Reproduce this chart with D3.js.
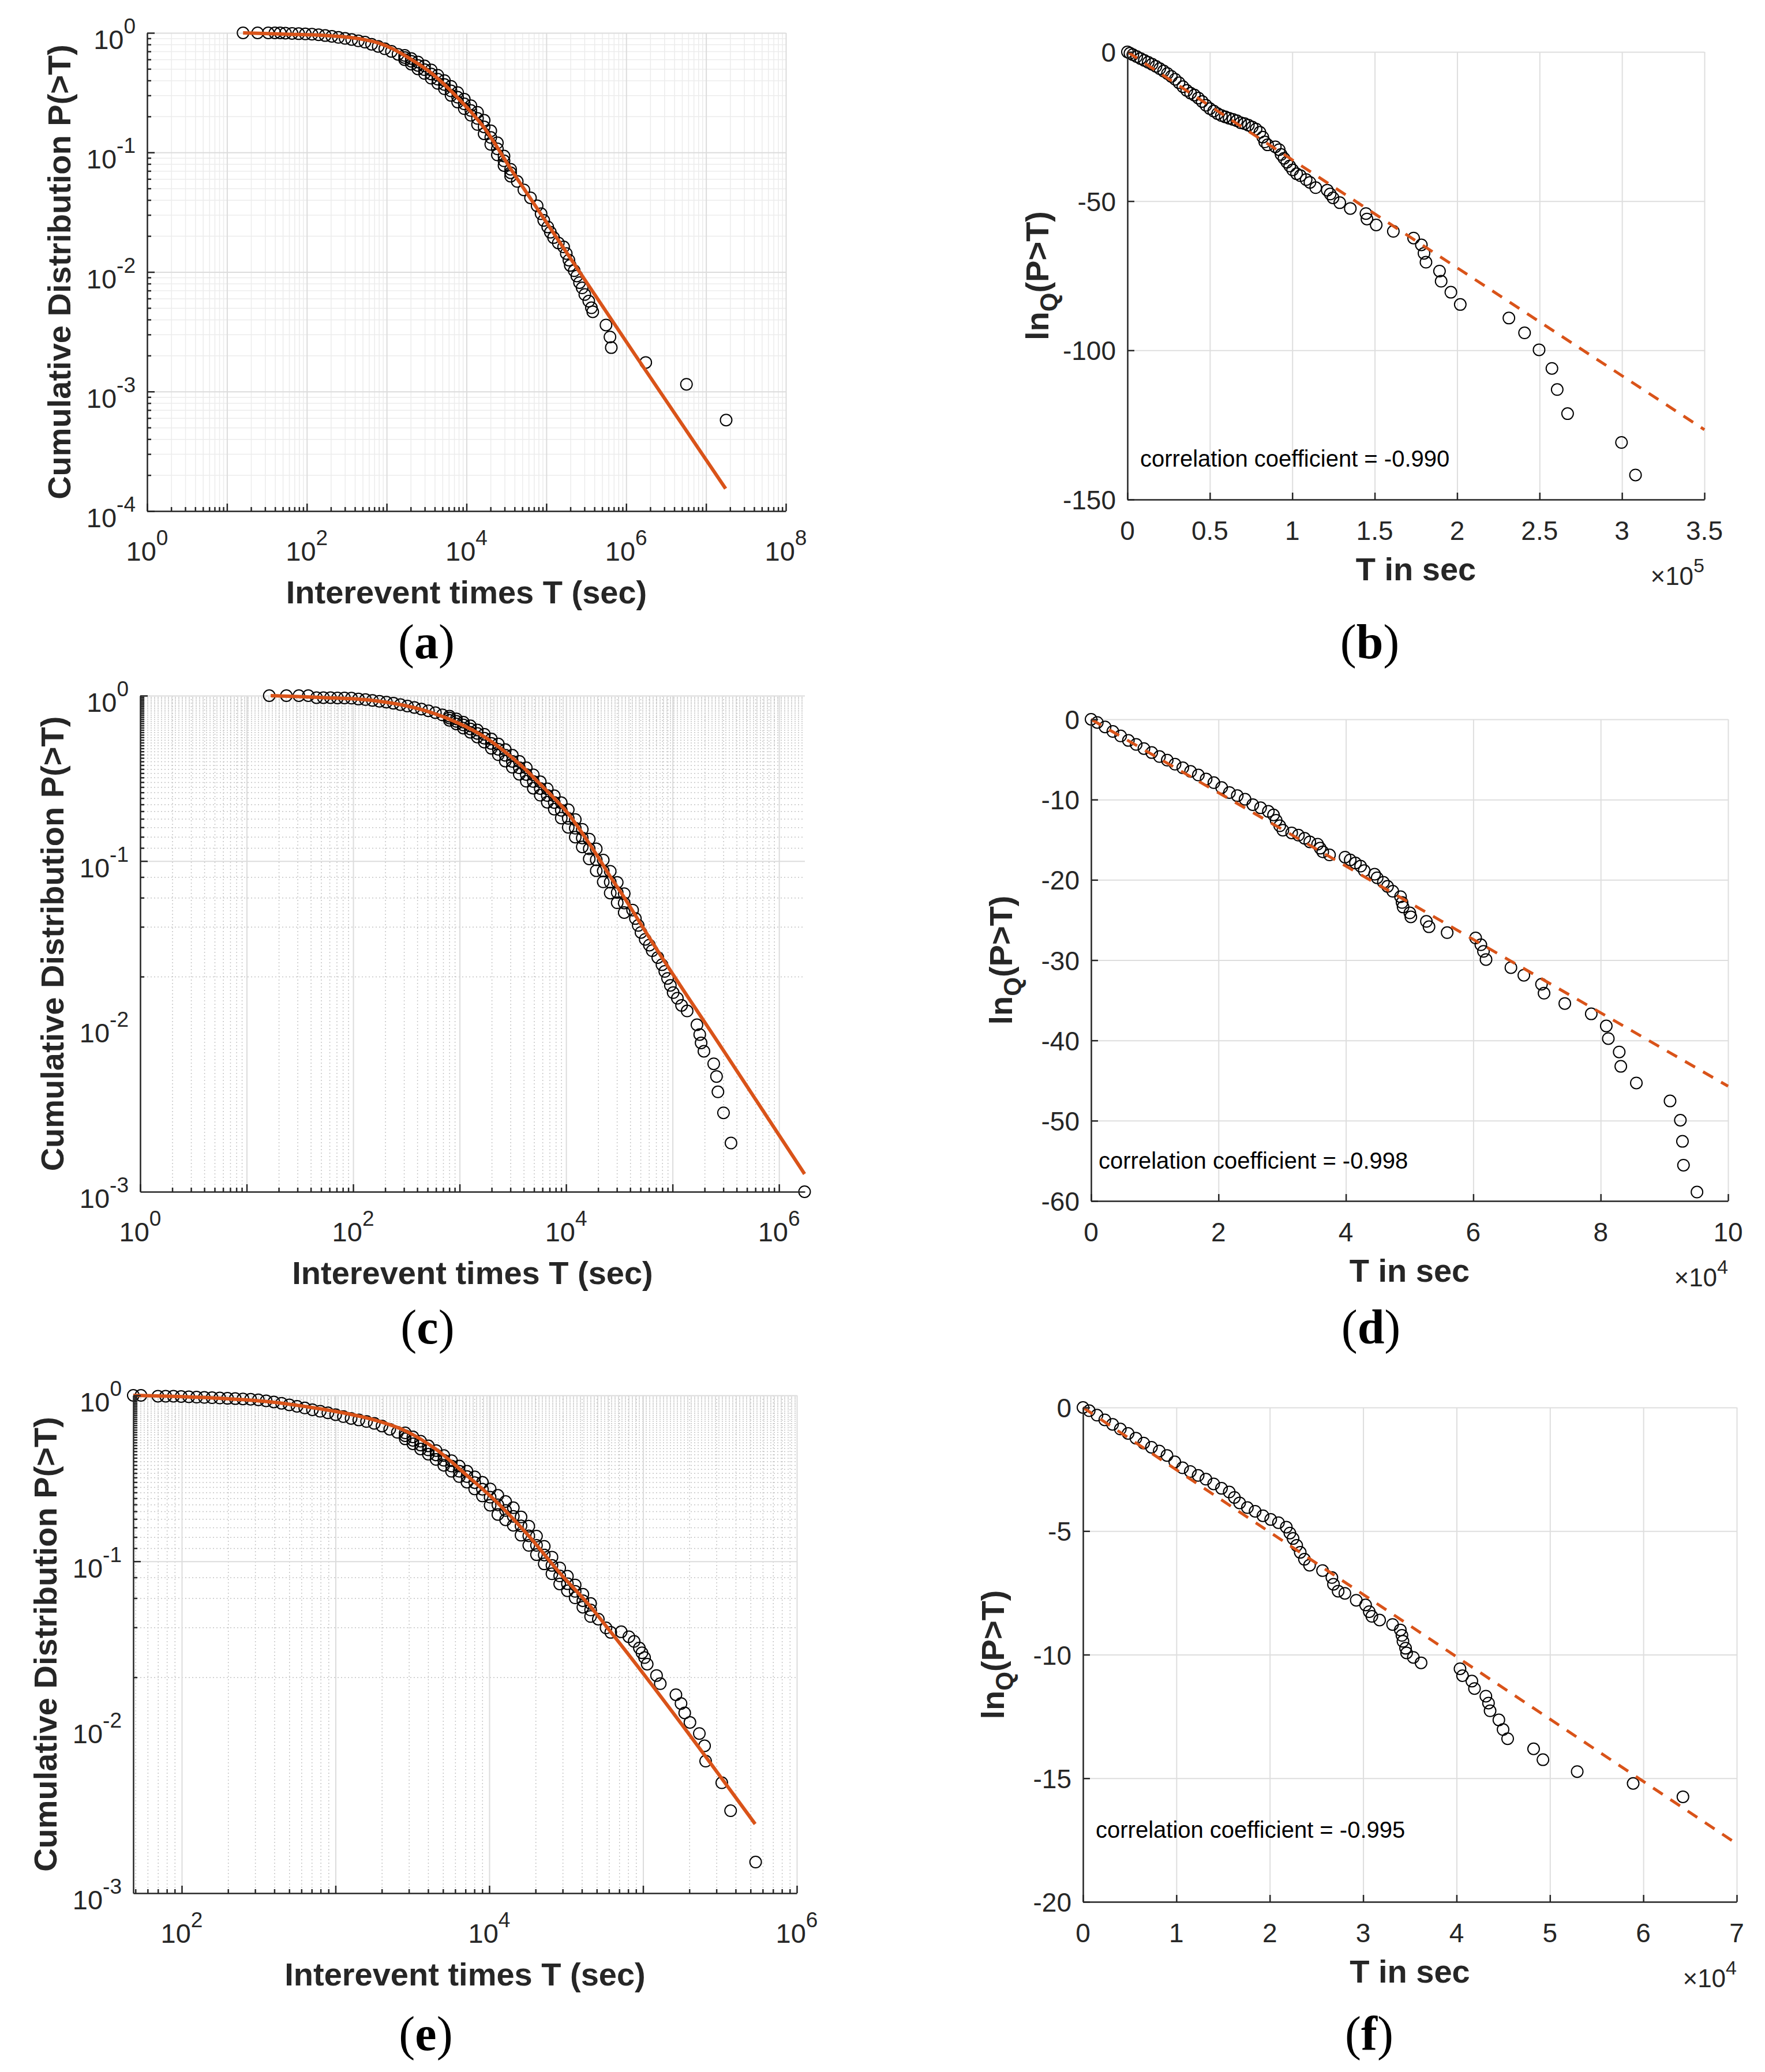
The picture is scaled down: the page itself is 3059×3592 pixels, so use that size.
<!DOCTYPE html>
<html lang="en">
<head>
<meta charset="utf-8">
<title>Interevent times and ln_q plots</title>
<script src="https://d3js.org/d3.v7.min.js"></script>
<style>
  body { margin: 0; background: #fff; }
  svg text { font-family: "Liberation Sans", Arial, Helvetica, sans-serif; fill: #262626; }
  .tl { font-size: 46px; }
  .lbl { font-size: 56px; font-weight: bold; }
  .cap { font-family: "Liberation Serif", "Times New Roman", serif; font-size: 84px; fill: #000; }
  .corr { font-size: 40px; fill: #000; }
</style>
</head>
<body>
<script>
// ---------- (a) cumulative distribution, log-log ----------
var aT = [15.9, 24.2, 32.9, 39.8, 46.4, 54.0, 65.4, 79.1, 95.8, 116, 140.4, 169.9, 205.8, 249.0, 301.5, 364.9, 441.8,
  534.6, 647.1, 783.3, 948.0, 1148, 1389, 1682, 2035, 2464, 2982, 3610, 4369, 5288, 6402, 7749, 9380, 11350, 13740,
  16630, 20140, 24370, 29510, 35710, 43220, 52330, 63330, 76660, 86000, 92800, 104100, 112300, 123100, 141300, 164600,
  177700, 191700, 199200, 223400, 241100, 260300, 280900, 303300, 340100, 367100, 381400, 558700, 626600, 651000,
  1758000, 5690000, 17860000];
var aP = [1, 1, 1, 1, 1.0, 0.995, 0.99, 0.985, 0.980, 0.975, 0.965, 0.950, 0.936, 0.917, 0.899, 0.880, 0.858, 0.837,
  0.803, 0.771, 0.736, 0.700, 0.662, 0.622, 0.579, 0.534, 0.492, 0.4535, 0.4096, 0.3698, 0.3272, 0.2895, 0.2549, 0.2243,
  0.1925, 0.1635, 0.1334, 0.1071, 0.0851, 0.0676, 0.0572, 0.0486, 0.0417, 0.0358, 0.0307, 0.0270, 0.0238, 0.0215,
  0.0194, 0.0175, 0.0162, 0.01428, 0.01257, 0.01135, 0.01025, 0.00926, 0.00815, 0.00736, 0.00648, 0.00570, 0.00502,
  0.00465, 0.00360, 0.00286, 0.00233, 0.00175, 0.00115, 0.000577];
// upper and lower edges of the dense band
var aColT = [1682, 2035, 2464, 2982, 3610, 4369, 5288, 6402, 7749, 9380, 11350, 13740, 16630, 20140, 24370, 29510, 35710];
var aUpP = [0.648, 0.610, 0.571, 0.529, 0.490, 0.442, 0.399, 0.357, 0.317, 0.279, 0.246, 0.2165, 0.1858, 0.1515, 0.1204, 0.0933, 0.0723];
var aLowP = [0.597, 0.548, 0.500, 0.458, 0.418, 0.378, 0.341, 0.300, 0.264, 0.2325, 0.2047, 0.1713, 0.1432, 0.1168, 0.0953, 0.0777, 0.0633];
var aFitT = [15.9, 54.0, 169.9, 364.9, 534.6, 783.3, 1148, 1682, 2464, 3610, 5288, 7749, 11350, 16630, 24370, 35710,
  52330, 76660, 1275000, 17600000];
var aFitP = [1.0, 0.975, 0.950, 0.912, 0.876, 0.824, 0.744, 0.648, 0.553, 0.463, 0.3698, 0.2866, 0.2187, 0.1611, 0.1099,
  0.0730, 0.0498, 0.0340, 0.002055, 0.000154];

// ---------- (b) ln_q vs T ----------
var bT = [0, 1518, 3270, 5606, 7942, 10280, 12610, 14950, 17290, 19620, 21960, 24290, 26630, 28970, 31300, 33640, 35970,
  38310, 40650, 42980, 45320, 47650, 49990, 52330, 54660, 57000, 59330, 61670, 64010, 66340, 68680, 71010, 73350, 75690,
  78020, 80360, 82110, 83280, 85030, 89700, 92040, 93210, 94960, 96710, 98460, 100200, 102600, 104900, 108400, 110700,
  114200, 121200, 123000, 124700, 128800, 135200, 144700, 145300, 150900, 161300, 173600, 178300, 179900, 181100,
  189300, 190300, 196200, 201900, 231400, 240900, 249700, 257500, 260700, 267000, 299700, 308200];
var bQ = [0, -0.45, -0.90, -1.55, -2.20, -2.84, -3.49, -4.13, -4.85, -5.62, -6.40, -7.24, -8.20, -9.17, -10.34, -11.63,
  -12.92, -13.82, -14.47, -15.44, -16.60, -17.89, -18.99, -19.83, -20.67, -21.32, -21.77, -22.22, -22.61, -23.06, -23.71,
  -24.03, -24.55, -25.19, -25.84, -26.94, -28.55, -30.17, -31.14, -31.78, -32.75, -34.37, -35.66, -36.95, -38.24,
  -39.54, -40.83, -41.47, -42.77, -43.73, -45.48, -46.32, -47.61, -48.90, -50.52, -52.46, -54.16, -56.00, -57.99,
  -60.12, -62.38, -64.65, -67.49, -70.47, -73.44, -76.85, -80.53, -84.64, -89.18, -94.14, -99.82, -106.06, -113.14,
  -121.22, -130.87, -141.78];
var bFitT = [0, 350000];
var bFitQ = [0, -126.6];

// ---------- (c) cumulative distribution, log-log ----------
var cT = [16.3, 23.6, 30.9, 37.9, 45.3, 52.6, 61.3, 71.3, 82.9, 96.4, 112.2, 130.5, 151.8, 176.6, 205.4, 238.9, 278.0,
  323.4, 376.1, 437.5, 508.9, 592.0, 688.8, 802, 932, 1084, 1261, 1467, 1707, 1986, 2310, 2687, 3126, 3636, 4229, 4920,
  5724, 6659, 7746, 9012, 10480, 12200, 14190, 16500, 19200, 22330, 25980, 30220, 35150, 42140, 44770, 47570, 50530,
  55340, 60600, 64380, 72640, 79560, 84540, 89790, 95370, 101300, 111000, 121500, 137100, 169500, 180000, 185500,
  197100, 243600, 258800, 266800, 301000, 354000, 1738000];
var cP = [1, 1, 1, 1, 0.973, 0.973, 0.973, 0.969, 0.969, 0.966, 0.954, 0.947, 0.936, 0.925, 0.914, 0.900, 0.883, 0.866,
  0.849, 0.830, 0.810, 0.789, 0.765, 0.733, 0.699, 0.665, 0.629, 0.591, 0.553, 0.514, 0.474, 0.436, 0.4006, 0.3663,
  0.3336, 0.3027, 0.2746, 0.2491, 0.2260, 0.2027, 0.1811, 0.1579, 0.1379, 0.1185, 0.1018, 0.0871, 0.0745, 0.0645,
  0.0557, 0.0505, 0.0449, 0.0408, 0.0370, 0.0336, 0.0310, 0.0287, 0.0261, 0.0236, 0.0215, 0.0195, 0.0177, 0.0160,
  0.0148, 0.0134, 0.0124, 0.01023, 0.00893, 0.00795, 0.00707, 0.00594, 0.00498, 0.00402, 0.00300, 0.00197, 0.001];
var cColT = [802, 932, 1084, 1261, 1467, 1707, 1986, 2310, 2687, 3126, 3636, 4229, 4920, 5724, 6659, 7746, 9012, 10480,
  12200, 14190, 16500, 19200, 22330, 25980, 30220, 35150];
var cUpP = [0.7525, 0.7240, 0.6910, 0.6567, 0.6195, 0.5844, 0.5470, 0.5100, 0.4717, 0.4363, 0.4006, 0.3663, 0.3323,
  0.3015, 0.2735, 0.2482, 0.2252, 0.2043, 0.1783, 0.1555, 0.1357, 0.1185, 0.1014, 0.0867, 0.0742, 0.0635];
var cLowP = [0.7099, 0.6750, 0.6365, 0.6006, 0.5621, 0.5241, 0.4810, 0.4397, 0.4022, 0.3691, 0.3348, 0.3039, 0.2757,
  0.2501, 0.2269, 0.2059, 0.1818, 0.1599, 0.1395, 0.1217, 0.1030, 0.0874, 0.0748, 0.0640, 0.0559, 0.0488];
var cFitT = [16.8, 51, 152, 509, 932, 1706, 2310, 3126, 4229, 5727, 7745, 10480, 14190, 19200, 25980, 35150, 47570,
  64380, 292100, 1738000];
var cFitP = [1.0, 0.975, 0.936, 0.801, 0.691, 0.564, 0.492, 0.421, 0.354, 0.291, 0.2395, 0.1934, 0.1473, 0.1100, 0.0806,
  0.0602, 0.0441, 0.0323, 0.00735, 0.00128];

// ---------- (d) ln_q vs T ----------
var dT = [0, 976, 2197, 3417, 4638, 5858, 7079, 8299, 9520, 10740, 11960, 13180, 14400, 15620, 16840, 18060, 19280,
  20500, 21720, 22950, 24170, 25390, 26610, 27830, 28640, 29050, 29620, 30110, 31490, 32550, 33520, 34340, 35560, 35960,
  36370, 37430, 39870, 40680, 41500, 42310, 42880, 44510, 44910, 45890, 46540, 47360, 48580, 48820, 48980, 50040, 50200,
  52640, 53050, 55900, 60370, 61190, 61600, 62000, 65910, 67940, 70710, 71110, 74370, 78520, 80880, 81200, 82910, 83160,
  85600, 90890, 92510, 92840, 93000, 95120];
var dQ = [0, -0.39, -0.95, -1.51, -2.07, -2.63, -3.13, -3.64, -4.14, -4.64, -5.09, -5.59, -6.04, -6.49, -6.94, -7.44,
  -7.89, -8.50, -9.12, -9.51, -9.96, -10.63, -11.02, -11.47, -11.91, -12.58, -13.26, -13.81, -14.15, -14.43, -14.82,
  -15.27, -15.55, -16.05, -16.50, -16.89, -17.17, -17.51, -17.90, -18.29, -18.85, -19.30, -19.74, -20.30, -20.81, -21.42,
  -22.09, -22.82, -23.38, -24.11, -24.61, -25.17, -25.84, -26.57, -27.24, -28.08, -28.91, -29.92, -30.93, -31.88, -33.00,
  -34.12, -35.40, -36.69, -38.20, -39.77, -41.44, -43.23, -45.30, -47.54, -49.94, -52.57, -55.54, -58.89];
var dFitT = [0, 100000];
var dFitQ = [0, -45.7];

// ---------- (e) cumulative distribution, log-log ----------
var eT = [48.4, 54.3, 70.0, 78.6, 88.3, 99.1, 111.2, 124.9, 140.2, 157.4, 176.7, 198.4, 222.7, 250.0, 280.6, 315.0,
  353.8, 397.2, 445.8, 500.6, 561.8, 630.8, 708.0, 795.0, 892.5, 1002, 1125, 1263, 1418, 1591, 1787, 2006, 2252, 2528,
  2838, 3186, 3577, 4015, 4508, 5061, 5682, 6378, 7161, 8039, 9024, 10130, 11370, 12770, 14330, 16090, 18070, 20280,
  22770, 25560, 28710, 32220, 36170, 40610, 45590, 51190, 57450, 61660, 72110, 80910, 87500, 94640, 98400, 102300,
  106400, 122400, 129400, 163600, 176600, 186600, 201800, 232300, 251200, 255300, 325100, 371000, 539700];
var eP = [1, 1, 0.989, 0.989, 0.989, 0.985, 0.981, 0.976, 0.972, 0.968, 0.964, 0.960, 0.956, 0.952, 0.948, 0.940, 0.927,
  0.912, 0.896, 0.877, 0.859, 0.840, 0.819, 0.802, 0.785, 0.765, 0.745, 0.726, 0.711, 0.696, 0.678, 0.653, 0.625, 0.599,
  0.571, 0.536, 0.502, 0.469, 0.438, 0.406, 0.375, 0.349, 0.324, 0.298, 0.272, 0.2434, 0.2188, 0.2025, 0.1866, 0.1634,
  0.1425, 0.1247, 0.1092, 0.0944, 0.0816, 0.0733, 0.0659, 0.0579, 0.0509, 0.0448, 0.0397, 0.0373, 0.0376, 0.0351,
  0.0329, 0.0300, 0.0281, 0.0263, 0.0240, 0.0205, 0.0183, 0.0157, 0.0139, 0.0122, 0.0107, 0.00917, 0.00773, 0.00625,
  0.00463, 0.00314, 0.00154];
var eColT = [2838, 3186, 3577, 4015, 4508, 5061, 5682, 6378, 7161, 8039, 9024, 10130, 11370, 12770, 14330, 16090, 18070,
  20280, 22770, 25560, 28710, 32220, 36170, 40610, 45590];
var eUpP = [0.594, 0.562, 0.529, 0.496, 0.465, 0.434, 0.404, 0.375, 0.349, 0.323, 0.299, 0.273, 0.2498, 0.2293, 0.2103,
  0.1850, 0.1627, 0.1418, 0.1231, 0.1060, 0.0912, 0.0813, 0.0720, 0.0633, 0.0557];
var eLowP = [0.547, 0.511, 0.475, 0.442, 0.411, 0.379, 0.349, 0.324, 0.300, 0.273, 0.2477, 0.2178, 0.1915, 0.1780, 0.1648,
  0.1437, 0.1247, 0.1097, 0.0965, 0.0841, 0.0730, 0.0665, 0.0602, 0.0529, 0.0465];
var eFitT = [48.4, 177, 354, 708, 1124, 1786, 2838, 4508, 7161, 11380, 18070, 28710, 45600, 60200, 536000];
var eFitP = [1.0, 0.960, 0.919, 0.844, 0.785, 0.711, 0.612, 0.473, 0.329, 0.224, 0.142, 0.0852, 0.0532, 0.0386, 0.00261];

// ---------- (f) ln_q vs T ----------
var fT = [0, 666, 1499, 2332, 3165, 3998, 4831, 5663, 6496, 7329, 8162, 8995, 9828, 10660, 11490, 12330, 13160, 13990,
  14830, 15660, 16210, 16770, 17600, 18430, 19270, 20100, 20930, 21770, 22150, 22490, 22880, 23260, 23710, 24260, 25650,
  26650, 26820, 27320, 28040, 29260, 30260, 30650, 30930, 31760, 33150, 33980, 34150, 34260, 34540, 34650, 35370, 36200,
  40370, 40640, 41640, 41920, 43140, 43420, 43590, 44530, 44980, 45470, 48250, 49250, 52920, 58910, 64240];
var fQ = [0, -0.13, -0.31, -0.50, -0.68, -0.87, -1.05, -1.24, -1.44, -1.61, -1.76, -1.94, -2.20, -2.44, -2.59, -2.75,
  -2.90, -3.09, -3.27, -3.42, -3.64, -3.86, -4.05, -4.20, -4.38, -4.53, -4.66, -4.84, -5.08, -5.30, -5.58, -5.86, -6.14,
  -6.38, -6.60, -6.88, -7.15, -7.43, -7.52, -7.80, -7.99, -8.26, -8.45, -8.60, -8.78, -9.00, -9.22, -9.46, -9.74, -9.93,
  -10.11, -10.33, -10.57, -10.85, -11.07, -11.37, -11.68, -11.96, -12.27, -12.64, -13.03, -13.40, -13.81, -14.25, -14.73,
  -15.21, -15.75];
var fFitT = [0, 70000];
var fFitQ = [0, -17.65];

// tick labels
var aXExp = [0, 2, 4, 6, 8], aYExp = [0, -1, -2, -3, -4];
var cXExp = [0, 2, 4, 6], cYExp = [0, -1, -2, -3];
var eXExp = [2, 4, 6], eYExp = [0, -1, -2, -3];
var bXTicks = [0, 50000, 100000, 150000, 200000, 250000, 300000, 350000], bYTicks = [0, -50, -100, -150];
var dXTicks = [0, 20000, 40000, 60000, 80000, 100000], dYTicks = [0, -10, -20, -30, -40, -50, -60];
var fXTicks = [0, 10000, 20000, 30000, 40000, 50000, 60000, 70000], fYTicks = [0, -5, -10, -15, -20];

var ORANGE = "#D95319", AXIS = "#262626";

var svg = d3.select("body").append("svg")
  .attr("width", 3059).attr("height", 3592)
  .style("background", "#fff");

function styleAxis(sel, keepDomain) {
  if (!keepDomain) sel.select(".domain").remove();
  else sel.select(".domain").attr("stroke", AXIS).attr("stroke-width", 2.5);
  sel.selectAll(".tick line").attr("stroke", AXIS).attr("stroke-width", 2.5);
}
function gridLines(g, x, y, w, h, xv, yv, color, dash, width) {
  var gx = g.append("g").call(d3.axisBottom(x).tickValues(xv).tickSize(h).tickFormat(""));
  var gy = g.append("g").call(d3.axisLeft(y).tickValues(yv).tickSize(-w).tickFormat(""));
  [gx, gy].forEach(function (s) {
    s.select(".domain").remove();
    s.selectAll("line").attr("stroke", color).attr("stroke-width", width).attr("stroke-dasharray", dash);
  });
}
// series: list of [Tarray, Varray]
function drawMarks(g, x, y, series, fitT, fitV, dashed, curved) {
  var pts = [];
  series.forEach(function (s) { pts = pts.concat(d3.zip(s[0], s[1])); });
  g.append("g").selectAll("circle").data(pts).join("circle")
    .attr("cx", function (d) { return x(d[0]); })
    .attr("cy", function (d) { return y(d[1]); })
    .attr("r", 10).attr("fill", "none").attr("stroke", "#000").attr("stroke-width", 2);
  var line = d3.line().x(function (d) { return x(d[0]); }).y(function (d) { return y(d[1]); });
  if (curved) line.curve(d3.curveMonotoneX);
  g.append("path").datum(d3.zip(fitT, fitV)).attr("d", line)
    .attr("fill", "none").attr("stroke", ORANGE)
    .attr("stroke-width", dashed ? 5 : 6)
    .attr("stroke-dasharray", dashed ? "20,16" : null);
}
function caption(cx, cy, letter) {
  var t = svg.append("text").attr("class", "cap").attr("x", cx).attr("y", cy).attr("text-anchor", "middle");
  t.append("tspan").text("(");
  t.append("tspan").attr("font-weight", "bold").text(letter);
  t.append("tspan").text(")");
}
function pow10Label(parent, px, py, anchor, e) {
  var t = parent.append("text").attr("class", "tl").attr("x", px).attr("y", py).attr("text-anchor", anchor)
    .style("font-size", "47px");
  t.append("tspan").text("10");
  t.append("tspan").attr("dy", -27).style("font-size", "37px").text(e);
}

function logPanel(p) {
  var w = p.box[2] - p.box[0], h = p.box[3] - p.box[1];
  var g = svg.append("g").attr("transform", "translate(" + p.box[0] + "," + p.box[1] + ")");
  var x = d3.scaleLog().domain(p.xDom).range([0, w]);
  var y = d3.scaleLog().domain(p.yDom).range([h, 0]);
  var isMaj = function (v) { var l = Math.log10(v); return Math.abs(l - Math.round(l)) < 1e-9; };
  var xAll = x.ticks(60), yAll = y.ticks(60);
  var xMin = xAll.filter(function (v) { return !isMaj(v); }), yMin = yAll.filter(function (v) { return !isMaj(v); });
  var xMaj = xAll.filter(isMaj), yMaj = yAll.filter(isMaj);

  gridLines(g, x, y, w, h, xMin, yMin, p.minorColor, p.minorDash, 1.5);
  gridLines(g, x, y, w, h, xMaj, yMaj, "#dcdcdc", null, 2);

  drawMarks(g, x, y, p.series, p.fitT, p.fitV, false, true);

  g.append("g").attr("transform", "translate(0," + h + ")")
    .call(d3.axisBottom(x).tickValues(xMin).tickSize(-7).tickFormat(""))
    .call(function (s) { styleAxis(s, false); });
  g.append("g").attr("transform", "translate(0," + h + ")")
    .call(d3.axisBottom(x).tickValues(xMaj).tickSize(-13).tickSizeOuter(0).tickFormat(""))
    .call(function (s) { styleAxis(s, true); });
  g.append("g").call(d3.axisLeft(y).tickValues(yMin).tickSize(-7).tickFormat(""))
    .call(function (s) { styleAxis(s, false); });
  g.append("g").call(d3.axisLeft(y).tickValues(yMaj).tickSize(-13).tickSizeOuter(0).tickFormat(""))
    .call(function (s) { styleAxis(s, true); });

  p.xExp.forEach(function (e) { pow10Label(g, x(Math.pow(10, e)), h + 86, "middle", e); });
  p.yExp.forEach(function (e) { pow10Label(g, -20, y(Math.pow(10, e)) + 28, "end", e); });

  g.append("text").attr("class", "lbl").attr("x", w / 2).attr("y", h + 160).attr("text-anchor", "middle")
    .text("Interevent times T (sec)");
  g.append("text").attr("class", "lbl").attr("text-anchor", "middle")
    .attr("transform", "translate(-133," + (h / 2) + ") rotate(-90)")
    .text("Cumulative Distribution P(>T)");
  caption(p.cap[0], p.cap[1], p.cap[2]);
}

function linPanel(p) {
  var w = p.box[2] - p.box[0], h = p.box[3] - p.box[1];
  var g = svg.append("g").attr("transform", "translate(" + p.box[0] + "," + p.box[1] + ")");
  var x = d3.scaleLinear().domain(p.xDom).range([0, w]);
  var y = d3.scaleLinear().domain(p.yDom).range([h, 0]);

  gridLines(g, x, y, w, h, p.xTicks, p.yTicks, "#dedede", null, 2);
  drawMarks(g, x, y, [[p.T, p.V]], p.fitT, p.fitV, true, false);

  g.append("g").attr("transform", "translate(0," + h + ")")
    .call(d3.axisBottom(x).tickValues(p.xTicks).tickSize(-12).tickSizeOuter(0).tickFormat(""))
    .call(function (s) { styleAxis(s, true); });
  g.append("g").call(d3.axisLeft(y).tickValues(p.yTicks).tickSize(-12).tickSizeOuter(0).tickFormat(""))
    .call(function (s) { styleAxis(s, true); });

  g.selectAll(".xl").data(p.xTicks).join("text").attr("class", "tl")
    .attr("x", function (d) { return x(d); }).attr("y", h + 70).attr("text-anchor", "middle")
    .text(function (d) { return String(d / p.xMult); });
  g.selectAll(".yl").data(p.yTicks).join("text").attr("class", "tl")
    .attr("x", -20).attr("y", function (d) { return y(d) + 17; }).attr("text-anchor", "end")
    .text(function (d) { return String(d); });

  var m = g.append("text").attr("class", "tl").attr("x", w).attr("y", h + 148).attr("text-anchor", "end")
    .style("font-size", "44px");
  m.append("tspan").text("\u00D710");
  m.append("tspan").attr("dy", -22).style("font-size", "34px").text(p.mulExp);

  g.append("text").attr("class", "lbl").attr("x", w / 2).attr("y", h + 140).attr("text-anchor", "middle")
    .text("T in sec");
  var yl = g.append("text").attr("class", "lbl").attr("text-anchor", "middle")
    .attr("transform", "translate(-137," + (h / 2) + ") rotate(-90)");
  yl.append("tspan").text("ln");
  yl.append("tspan").attr("dy", 15).style("font-size", "42px").text("Q");
  yl.append("tspan").attr("dy", -15).text("(P>T)");

  g.append("text").attr("class", "corr").attr("x", x(p.corr[0])).attr("y", y(p.corr[1]))
    .text("correlation coefficient = " + p.corr[2]);
  caption(p.cap[0], p.cap[1], p.cap[2]);
}

logPanel({ box: [255, 57, 1362, 886], xDom: [1, 1e8], yDom: [1e-4, 1], xExp: aXExp, yExp: aYExp,
  series: [[aT, aP], [aColT, aUpP], [aColT, aLowP]], fitT: aFitT, fitV: aFitP,
  minorColor: "#ececec", minorDash: null, cap: [739, 1141, "a"] });
linPanel({ box: [1954, 90, 2954, 866], xDom: [0, 350000], yDom: [-150, 0], xTicks: bXTicks, yTicks: bYTicks,
  xMult: 1e5, mulExp: "5", T: bT, V: bQ, fitT: bFitT, fitV: bFitQ, corr: [7700, -139, "-0.990"], cap: [2374, 1141, "b"] });
logPanel({ box: [243, 1206, 1395, 2066], xDom: [1, 1.75e6], yDom: [1e-3, 1], xExp: cXExp, yExp: cYExp,
  series: [[cT, cP], [cColT, cUpP], [cColT, cLowP]], fitT: cFitT, fitV: cFitP,
  minorColor: "#c4c4c4", minorDash: "2,4", cap: [741, 2329, "c"] });
linPanel({ box: [1891, 1247, 2995, 2082], xDom: [0, 100000], yDom: [-60, 0], xTicks: dXTicks, yTicks: dYTicks,
  xMult: 1e4, mulExp: "4", T: dT, V: dQ, fitT: dFitT, fitV: dFitQ, corr: [1180, -56, "-0.998"], cap: [2376, 2329, "d"] });
logPanel({ box: [231, 2419, 1381, 3282], xDom: [48.4, 1e6], yDom: [1e-3, 1], xExp: eXExp, yExp: eYExp,
  series: [[eT, eP], [eColT, eUpP], [eColT, eLowP]], fitT: eFitT, fitV: eFitP,
  minorColor: "#c4c4c4", minorDash: "2,4", cap: [738, 3554, "e"] });
linPanel({ box: [1877, 2440, 3010, 3297], xDom: [0, 70000], yDom: [-20, 0], xTicks: fXTicks, yTicks: fYTicks,
  xMult: 1e4, mulExp: "4", T: fT, V: fQ, fitT: fFitT, fitV: fFitQ, corr: [1360, -17.4, "-0.995"], cap: [2373, 3554, "f"] });
</script>
</body>
</html>
